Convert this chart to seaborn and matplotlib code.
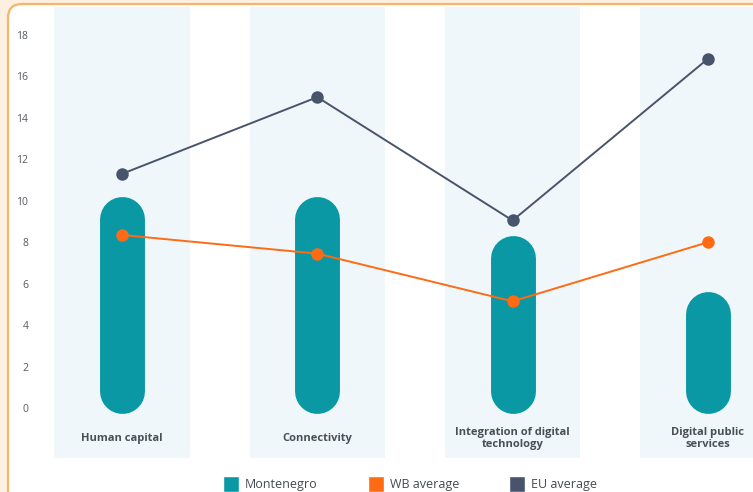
import matplotlib
matplotlib.use("Agg")
import matplotlib.pyplot as plt
import seaborn as sns
import pandas as pd
from matplotlib.patches import FancyBboxPatch, Patch
from matplotlib.transforms import IdentityTransform

categories = ["Human capital", "Connectivity", "Integration of digital\ntechnology", "Digital public\nservices"]
montenegro = [10.2, 10.2, 8.3, 5.6]
wb_average = [8.35, 7.45, 5.15, 8.0]
eu_average = [11.3, 15.0, 9.05, 16.85]
y_ticks = [0, 2, 4, 6, 8, 10, 12, 14, 16, 18]
legend_labels = ["Montenegro", "WB average", "EU average"]

TEAL = "#0A99A4"
ORANGE = "#FF6A14"
SLATE = "#48546C"
BAND = "#F0F7FA"
CREAM = "#FDF0E1"
BORDER = "#F8B468"

sns.set_theme(style="white")
plt.rcParams["font.family"] = ["Open Sans", "DejaVu Sans"]

W, H = 753, 492
fig = plt.figure(figsize=(W / 100, H / 100), dpi=100, facecolor=CREAM)

# card
card = FancyBboxPatch((8, -30), 800, 488 + 30, boxstyle="round,pad=0,rounding_size=14",
                      transform=IdentityTransform(), facecolor="white", edgecolor=BORDER,
                      linewidth=1.6, zorder=-10)
fig.patches.append(card)

ax_left, ax_right, ax_top, ax_bot = 40, 753, 7, 458
ax = fig.add_axes([ax_left / W, (H - ax_bot) / H, (ax_right - ax_left) / W, (ax_bot - ax_top) / H])
ax.set_facecolor("none")
ax.set_zorder(1)

df = pd.DataFrame({"cat": categories, "val": montenegro})
bar_w = 0.23
sns.barplot(data=df, x="cat", y="val", color=TEAL, width=bar_w, ax=ax, saturation=1, zorder=2)

ax.set_xlim(-0.42, 3.231)
ax.set_ylim(-2.41, 19.35)

# convert bars to pills (round-capped thick lines)
fig.canvas.draw()
bars = list(ax.patches)
p0 = ax.transData.transform((0, 0))
p1 = ax.transData.transform((1, 1))
px_x = p1[0] - p0[0]
px_y = p1[1] - p0[1]
for patch in bars:
    x, w, h = patch.get_x(), patch.get_width(), patch.get_height()
    patch.remove()
    width_px = w * px_x
    r = (width_px / 2) / px_y
    bottom = -0.25
    ax.plot([x + w / 2, x + w / 2], [bottom + r, h - r], color=TEAL,
            linewidth=width_px * 72 / 100, solid_capstyle="round", zorder=2)

# background bands
for i in range(len(categories)):
    ax.axvspan(i - 0.346, i + 0.346, color=BAND, zorder=0, lw=0)

xs = list(range(len(categories)))
sns.lineplot(x=xs, y=wb_average, color=ORANGE, marker="o", markersize=9, markeredgewidth=0,
             linewidth=1.4, ax=ax, zorder=3)
sns.lineplot(x=xs, y=eu_average, color=SLATE, marker="o", markersize=9, markeredgewidth=0,
             linewidth=1.4, ax=ax, zorder=3)

for i, c in enumerate(categories):
    ax.text(i, -1.45, c, ha="center", va="center", multialignment="center",
            fontsize=8, fontweight="bold", color="#4A4F57", linespacing=1.1)

ax.set_xticks([])
ax.set_yticks(y_ticks)
ax.set_yticklabels([str(t) for t in y_ticks], fontsize=7.5, color="#555A60")
ax.tick_params(axis="y", length=0, pad=8.5)
ax.set_xlabel("")
ax.set_ylabel("")
for s in ax.spines.values():
    s.set_visible(False)

handles = [Patch(facecolor=TEAL), Patch(facecolor=ORANGE), Patch(facecolor=SLATE)]
fig.legend(handles, legend_labels, loc="center", bbox_to_anchor=(410 / W, 8 / H), ncol=3,
           frameon=False, fontsize=9, handlelength=1.3, handleheight=1.6, handletextpad=0.45,
           columnspacing=4.0, labelcolor="#444A52")

fig.savefig("out.png", dpi=100, facecolor=CREAM)
